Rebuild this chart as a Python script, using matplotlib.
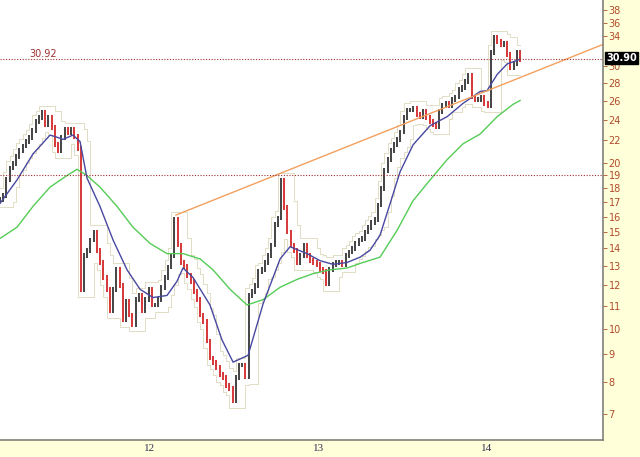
import numpy as np
import pandas as pd
import matplotlib
matplotlib.use("Agg")
import matplotlib.pyplot as plt
import matplotlib.transforms as mtransforms

# weekly closes, first week starts early Feb 2011
start_year = 2011.110
closes = [17.2, 17.5, 18.7, 19.6, 20.0, 20.6, 21.1, 21.5, 21.9, 22.3,
          22.9, 23.8, 24.2, 24.7, 23.5, 24.2, 23.2, 21.6, 21.1, 22.3,
          23.0, 22.7, 23.0, 22.4, 21.3, 11.8, 13.6, 13.9, 14.5, 15.0,
          13.9, 13.2, 12.4, 11.8, 10.8, 11.8, 12.8, 12.0, 10.4, 11.2,
          10.6, 10.2, 11.3, 11.5, 10.8, 11.3, 11.8, 11.05, 11.05, 11.3,
          11.9, 12.4, 12.95, 13.6, 15.8, 14.2, 13.2, 13.0, 12.5, 12.2,
          11.7, 11.3, 10.6, 10.3, 9.5, 8.85, 8.7, 8.5, 8.25, 8.15,
          7.9, 7.8, 7.4, 8.15, 8.6, 8.6, 8.2, 11.5, 11.7, 12.0,
          12.7, 12.8, 13.2, 13.6, 14.2, 15.5, 15.9, 18.65, 16.6, 15.0,
          14.2, 13.9, 13.2, 13.6, 14.2, 13.6, 13.3, 13.2, 13.1, 12.8,
          12.7, 12.1, 12.8, 13.1, 13.2, 13.2, 13.1, 13.6, 13.8, 14.0,
          14.3, 14.5, 14.6, 15.0, 15.3, 15.6, 15.8, 16.8, 18.0, 19.4,
          20.3, 21.1, 21.6, 22.1, 22.8, 24.2, 25.0, 25.0, 25.2, 24.5,
          24.3, 24.8, 24.2, 23.8, 23.5, 23.3, 24.8, 25.5, 25.7, 25.5,
          26.1, 26.4, 27.2, 27.5, 28.2, 28.9, 26.4, 26.1, 26.1, 26.3,
          25.7, 25.5, 31.8, 33.8, 33.3, 32.8, 33.0, 31.5, 29.8, 30.4,
          31.8, 30.9]

# short moving average (blue)
ma_short_t = [2011.110, 2011.211, 2011.306, 2011.407, 2011.448, 2011.484, 2011.543,
              2011.585, 2011.626, 2011.703, 2011.781, 2011.864, 2011.941, 2012.018,
              2012.101, 2012.160, 2012.196, 2012.255, 2012.356, 2012.427, 2012.493,
              2012.582, 2012.671, 2012.772, 2012.831, 2012.932, 2013.009, 2013.086,
              2013.169, 2013.247, 2013.306, 2013.365, 2013.425, 2013.484, 2013.561,
              2013.662, 2013.763, 2013.858, 2013.959, 2014.000, 2014.060, 2014.119,
              2014.196]
ma_short_v = [16.9, 18.65, 20.8, 22.5, 22.3, 22.1, 22.5, 21.9, 18.8, 16.7, 14.5,
              12.8, 11.8, 11.4, 11.5, 12.2, 12.9, 12.4, 11.05, 9.55, 8.7, 8.95,
              11.1, 13.4, 14.1, 13.7, 13.3, 13.1, 13.2, 13.5, 13.9, 14.8, 16.9,
              19.3, 21.6, 23.4, 24.3, 25.7, 27.0, 27.1, 29.0, 30.3, 30.9]

# long moving average (green)
ma_long_t = [2011.110, 2011.211, 2011.306, 2011.407, 2011.508, 2011.567, 2011.626,
             2011.703, 2011.804, 2011.899, 2012.000, 2012.101, 2012.196, 2012.297,
             2012.374, 2012.475, 2012.576, 2012.671, 2012.772, 2012.873, 2012.968,
             2013.068, 2013.169, 2013.264, 2013.365, 2013.466, 2013.561, 2013.662,
             2013.763, 2013.858, 2013.959, 2014.060, 2014.155, 2014.196]
ma_long_v = [14.6, 15.3, 16.7, 18.1, 19.0, 19.5, 19.0, 18.1, 16.7, 15.3, 14.3,
             13.7, 13.7, 13.4, 12.8, 11.8, 11.05, 11.3, 11.9, 12.3, 12.6, 12.8,
             12.9, 13.2, 13.5, 15.1, 17.1, 18.65, 20.3, 21.7, 22.6, 24.3, 25.6, 26.0]

# trend line and horizontal levels
trend_t = [2012.154, 2014.690]
trend_v = [16.1, 32.9]
level_hi = 30.92
level_lo = 19.05
last_price = 30.90

# 32 sits under the last-price box in the original, so it is left out
yticks = [7, 8, 9, 10, 11, 12, 13, 14, 15, 16, 17, 18, 19, 20, 22, 24, 26, 28, 30, 34, 36, 38]
years = [2012, 2013, 2014]

bg = '#FFFFDA'
fig = plt.figure(figsize=(6.4, 4.57), dpi=100, facecolor=bg)
ax = fig.add_axes([0, 17 / 457, 603 / 640, 440 / 457])
ax.set_facecolor('white')

t = start_year + np.arange(len(closes)) / 52.18
c = np.array(closes)

# price channel
s = pd.Series(closes)
upper = s.rolling(5, min_periods=1).max().shift(-1).ffill()
lower = s.rolling(5, min_periods=1).min().shift(-1).ffill()
ax.plot(t, upper * 1.03, drawstyle='steps-post', color='#E2DCC4', lw=0.7)
ax.plot(t, lower * 0.97, drawstyle='steps-post', color='#E2DCC4', lw=0.7)

# bars
prev = np.r_[c[0], c[:-1]]
cols = np.where(c < prev, '#CC0000', '#111111')
ax.vlines(t, np.minimum(prev, c) * 0.99, np.maximum(prev, c) * 1.01, colors=cols, lw=1.1)

ax.plot(ma_long_t, ma_long_v, color='#55CC55', lw=1.0)
ax.plot(ma_short_t, ma_short_v, color='#4848A0', lw=1.0)
ax.plot(trend_t, trend_v, color='#F0A060', lw=1.0)

ax.axhline(level_hi, color='#A03030', ls=(0, (1, 1.5)), lw=0.8)
ax.axhline(level_lo, color='#A03030', ls=(0, (1, 1.5)), lw=0.8)
ax.text(2011.285, level_hi, '30.92', color='#A03030', fontsize=7, va='bottom', ha='left')

ax.set_yscale('log')
ax.set_ylim(6.28, 39.6)
ax.set_xlim(2011.110, 2014.688)

ax.yaxis.tick_right()
ax.set_yticks(yticks)
ax.set_yticklabels([str(v) for v in yticks])
ax.yaxis.set_minor_locator(matplotlib.ticker.NullLocator())
ax.tick_params(axis='y', colors='#B04A2A', labelsize=7, length=3, width=0.6, pad=1)
ax.set_xticks(years)
ax.set_xticklabels([str(y)[2:] for y in years], fontfamily='Liberation Serif')
ax.tick_params(axis='x', colors='#333355', labelsize=8, length=0, pad=3)

for sp in ['left', 'top']:
    ax.spines[sp].set_visible(False)
for sp in ['right', 'bottom']:
    ax.spines[sp].set_color('#808078')
    ax.spines[sp].set_linewidth(1.2)

trans = mtransforms.blended_transform_factory(ax.transAxes, ax.transData)
ax.text(1.005, last_price * 1.005, '30.90', transform=trans, color='white', fontsize=7,
        fontweight='bold', va='center', ha='left', zorder=5,
        bbox=dict(boxstyle='square,pad=0.1', fc='black', ec='black'))

fig.savefig('out.png', dpi=100, facecolor=bg)
